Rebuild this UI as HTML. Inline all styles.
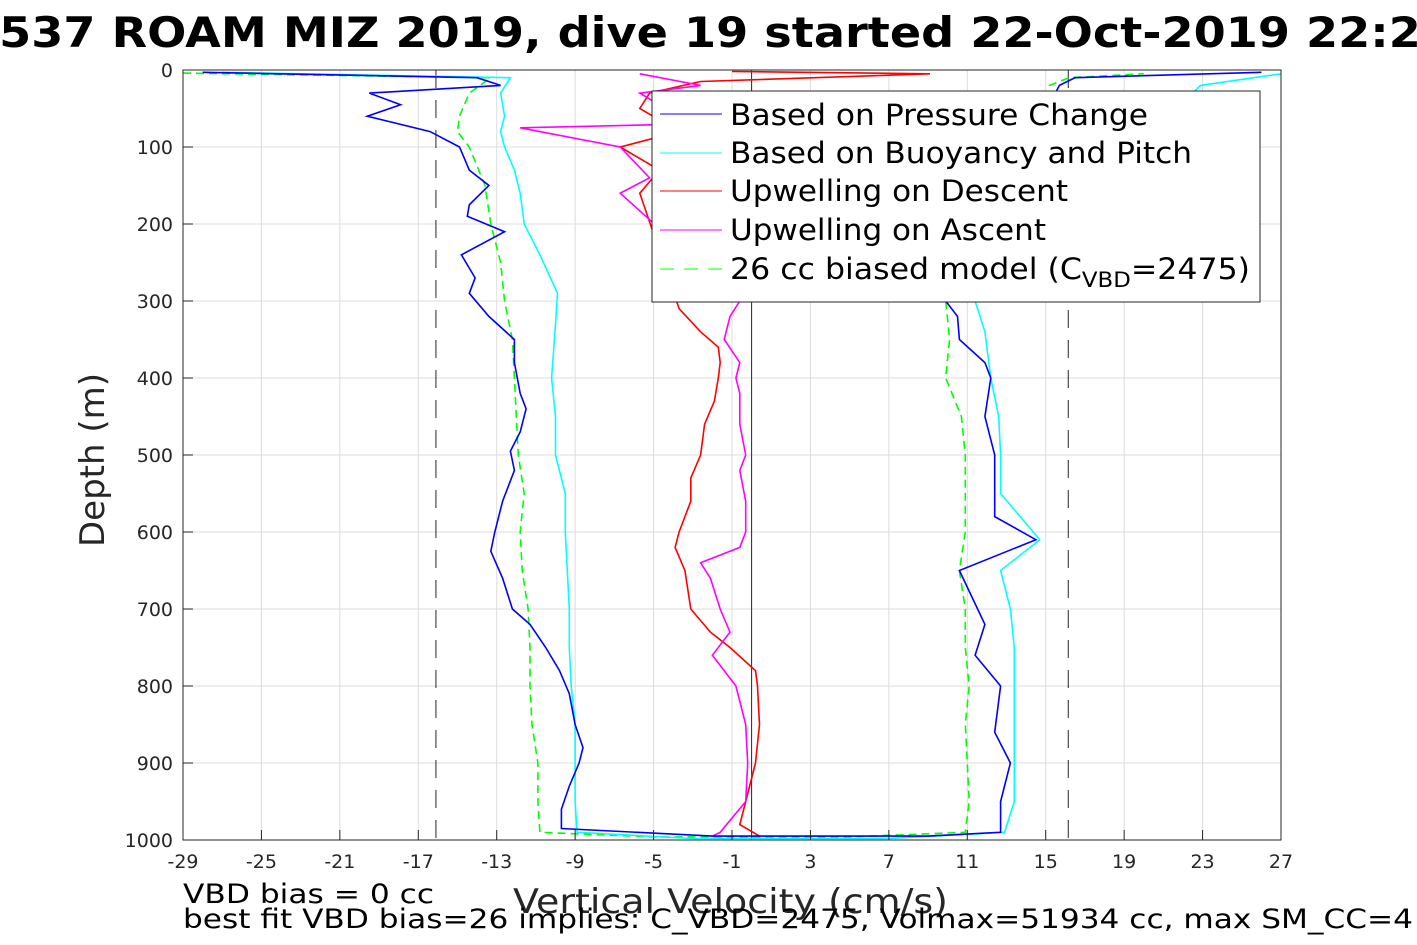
<!DOCTYPE html>
<html><head><meta charset="utf-8"><style>
html,body{margin:0;padding:0;background:#fff;overflow:hidden}
svg{display:block;font-family:"DejaVu Sans","Liberation Sans",sans-serif}
</style></head><body>
<svg id="chart" width="1417" height="945" viewBox="0 0 1417 945" xmlns="http://www.w3.org/2000/svg">
<g id="grid"></g>
<g id="refs"></g>
<g id="series"></g>
<rect x="183" y="70" width="1098" height="770" fill="none" stroke="#262626" stroke-width="1"/>
<g id="ticks"></g>
<text x="-72" y="47" font-size="42" font-weight="bold" fill="#000" textLength="1525" lengthAdjust="spacingAndGlyphs">SG537 ROAM MIZ 2019, dive 19 started 22-Oct-2019 22:28</text>
<text transform="translate(104,460) rotate(-90)" text-anchor="middle" font-size="34" fill="#262626">Depth (m)</text>
<text x="513" y="913" font-size="34" fill="#262626" textLength="435" lengthAdjust="spacingAndGlyphs">Vertical Velocity (cm/s)</text>
<text x="183" y="903" font-size="27" fill="#000" textLength="251" lengthAdjust="spacingAndGlyphs">VBD bias = 0 cc</text>
<text x="183" y="928" font-size="27" fill="#000" textLength="1230" lengthAdjust="spacingAndGlyphs">best fit VBD bias=26 implies: C_VBD=2475, Volmax=51934 cc, max SM_CC=4</text>
<g>
<rect x="652" y="91" width="608" height="211" fill="#fff" stroke="#262626" stroke-width="1"/>
<line x1="660" y1="114" x2="722" y2="114" stroke="#0000ff"/>
<text x="730" y="125" font-size="29" textLength="418" lengthAdjust="spacingAndGlyphs">Based on Pressure Change</text>
<line x1="660" y1="153" x2="722" y2="153" stroke="#00ffff"/>
<text x="730" y="163" font-size="29" textLength="462" lengthAdjust="spacingAndGlyphs">Based on Buoyancy and Pitch</text>
<line x1="660" y1="191" x2="722" y2="191" stroke="#ff0000"/>
<text x="730" y="201" font-size="29" textLength="338" lengthAdjust="spacingAndGlyphs">Upwelling on Descent</text>
<line x1="660" y1="230" x2="722" y2="230" stroke="#ff00ff"/>
<text x="730" y="240" font-size="29" textLength="316" lengthAdjust="spacingAndGlyphs">Upwelling on Ascent</text>
<line x1="660" y1="269" x2="722" y2="269" stroke="#00ff00" stroke-dasharray="14,10"/>
<text x="730" y="279" font-size="29" textLength="520" lengthAdjust="spacingAndGlyphs">26 cc biased model (C<tspan font-size="21" dy="8">VBD</tspan><tspan dy="-8">=2475)</tspan></text>
</g>
</svg>
<script>
const xTicks = [-29,-25,-21,-17,-13,-9,-5,-1,3,7,11,15,19,23,27];
const yTicks = [0,100,200,300,400,500,600,700,800,900,1000];
const refVel = [-16.1, 0.0, 16.15];
const refDash = [true, false, true];
const pressDepth = [3,10,20,30,45,60,80,100,130,150,175,190,210,240,270,290,320,350,380,420,440,470,495,520,560,600,625,660,700,720,750,780,810,850,880,900,930,960,985,995,
                    995,990,950,900,860,800,760,720,650,610,580,500,450,400,380,350,320,300,20,10,3];
const pressVel   = [-28,-14,-12.8,-19.5,-17.9,-19.6,-16.4,-14.9,-14.4,-13.4,-14.4,-14.5,-12.6,-14.8,-14.1,-14.4,-13.4,-12.1,-12.1,-11.8,-11.5,-11.8,-12.3,-12.1,-12.7,-13.1,-13.3,-12.7,-12.2,-11.3,-10.5,-9.8,-9.3,-9.0,-8.6,-8.8,-9.3,-9.7,-9.7,-2,
                    9,12.7,12.7,13.2,12.4,12.7,11.4,11.9,10.6,14.5,12.4,12.4,11.9,12.2,11.9,10.6,10.5,9.9,15.7,16.5,26];
const buoyDepth = [3,10,30,60,80,100,130,160,200,240,290,330,400,450,500,550,600,650,700,750,800,850,900,950,990,998,
                   998,990,950,900,850,800,750,700,650,610,550,500,450,400,340,300,20,5];
const buoyVel   = [-27,-12.3,-12.8,-12.6,-12.8,-12.6,-12.1,-11.8,-11.6,-10.8,-9.9,-10.0,-10.2,-10.0,-10.0,-9.5,-9.5,-9.4,-9.3,-9.3,-9.2,-9.0,-9.0,-9.0,-8.9,-3,
                   7,12.9,13.4,13.4,13.4,13.4,13.4,13.2,12.7,14.7,12.7,12.7,12.6,12.2,11.9,11.4,22.9,27];
const modelDepth = [4,10,30,60,80,100,150,200,250,300,350,400,450,500,550,600,650,700,750,800,850,900,950,990,996,
                    996,990,950,900,850,800,750,700,650,600,500,450,400,350,300,20,10,5];
const modelVel   = [-29,-13.3,-14.4,-14.9,-15.0,-14.4,-13.6,-13.3,-12.8,-12.6,-12.2,-12.1,-12.0,-11.9,-11.6,-11.8,-11.7,-11.4,-11.3,-11.3,-11.2,-10.9,-10.9,-10.8,-5,
                    5,10.9,11.1,11.0,10.9,11.1,10.9,10.9,10.6,10.9,10.9,10.7,9.9,10.1,9.9,15.2,16.2,20];
const descDepth = [2,5,15,30,50,80,100,130,160,310,340,360,380,400,430,460,500,530,560,600,620,650,700,730,750,780,800,850,900,950,980,995];
const descVel   = [-1,9.1,-2.6,-5.2,-5.7,-3.7,-6.7,-4.7,-5.7,-3.7,-2.6,-1.7,-1.6,-1.7,-1.9,-2.4,-2.6,-3.1,-3.1,-3.7,-3.9,-3.4,-3.1,-2.1,-1.1,0.2,0.3,0.4,0.2,-0.3,-0.6,0.4];
const ascDepth = [995,990,950,900,850,800,760,730,700,660,640,620,600,560,520,500,460,420,400,380,350,320,300,160,140,100,75,70,30,20,5];
const ascVel   = [-2,-1.6,-0.3,-0.2,-0.3,-0.8,-2.0,-1.1,-1.6,-2.1,-2.6,-0.6,-0.3,-0.3,-0.6,-0.3,-0.6,-0.6,-0.8,-0.6,-1.4,-1.1,-0.6,-6.7,-5.2,-6.7,-11.8,-3.1,-5.7,-2.6,-5.7];

const NS = 'http://www.w3.org/2000/svg';
const X0=183, X1=1281, Y0=70, Y1=840;
const xs = v => X0 + (v - (-29)) / 56 * (X1 - X0);
const ys = d => Y0 + d / 1000 * (Y1 - Y0);
function mk(tag, attrs, parent){ const e=document.createElementNS(NS,tag); for(const k in attrs) e.setAttribute(k,attrs[k]); parent.appendChild(e); return e; }
const grid=document.getElementById('grid'), ticks=document.getElementById('ticks'), refs=document.getElementById('refs'), ser=document.getElementById('series');
xTicks.forEach(t=>{
  const g=mk('line',{x1:xs(t),x2:xs(t),y1:Y0,y2:Y1,stroke:'#dcdcdc','stroke-width':1},grid);
  
  
  const tk=mk('line',{x1:xs(t),x2:xs(t),y1:Y1,y2:Y1-10,stroke:'#262626'},ticks);
  
  
  const tx=mk('text',{x:xs(t),y:Y1+28,'text-anchor':'middle','font-size':19,fill:'#262626'},ticks);
  tx.textContent=t;
  
  
});
yTicks.forEach(t=>{
  const g=mk('line',{x1:X0,x2:X1,y1:ys(t),y2:ys(t),stroke:'#dcdcdc','stroke-width':1},grid);
  
  
  const tk=mk('line',{x1:X0,x2:X0+10,y1:ys(t),y2:ys(t),stroke:'#262626'},ticks);
  
  
  const tx=mk('text',{x:X0-10,y:ys(t)+7,'text-anchor':'end','font-size':19,fill:'#262626'},ticks);
  tx.textContent=t;
  
  
});
refVel.forEach((v,i)=>{
  const l=mk('line',{x1:xs(v),x2:xs(v),y1:Y0,y2:Y1,stroke:'#262626','stroke-width':1},refs);
  if(refDash[i]) l.setAttribute('stroke-dasharray','18,12');
  
  
});
function series(dep, vel, color, name, dash){
  const pts = dep.map((d,i)=>xs(vel[i]).toFixed(1)+','+ys(d).toFixed(1)).join(' ');
  const p=mk('polyline',{points:pts,fill:'none',stroke:color,'stroke-width':1.6},ser);
  if(dash) p.setAttribute('stroke-dasharray','8,5');
  
  
}
series(descDepth, descVel, '#ff0000', 'upwelling-descent-line');
series(ascDepth, ascVel, '#ff00ff', 'upwelling-ascent-line');
series(modelDepth, modelVel, '#00ff00', 'biased-model-line', true);
series(buoyDepth, buoyVel, '#00ffff', 'buoyancy-pitch-line');
series(pressDepth, pressVel, '#0000ff', 'pressure-change-line');
</script>
</body></html>
